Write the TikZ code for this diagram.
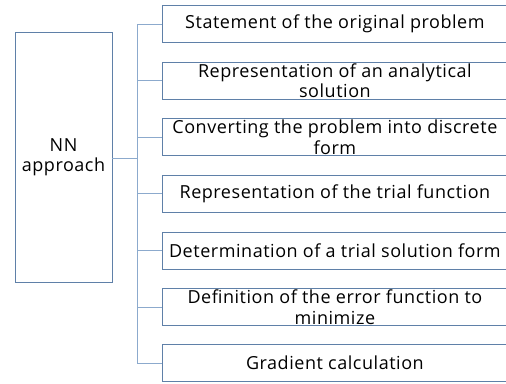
\documentclass[tikz,border=0pt]{standalone}
\usepackage{fontspec}
\setmainfont{Open Sans}[LetterSpace=3]
\definecolor{boxline}{RGB}{95,128,168}
\definecolor{conline}{RGB}{140,170,205}
\begin{document}
\begin{tikzpicture}[x=1pt,y=1pt,
  stepbox/.style={draw=boxline,line width=0.8pt,anchor=west,minimum width=345pt,minimum height=37pt,inner sep=0pt,align=center,font=\fontsize{18}{20.5}\selectfont},
  mainbox/.style={draw=boxline,line width=0.8pt,minimum width=97pt,minimum height=250pt,inner sep=0pt,align=center,font=\fontsize{18}{20.5}\selectfont},
  con/.style={draw=conline,line width=0.7pt}]
\useasboundingbox (0,0) rectangle (506,-383);
\node[mainbox] (nn) at (63.5,-157) {NN\\approach};
\node[stepbox] (b1) at (162,-24) {Statement of the original problem};
\node[stepbox] (b2) at (162,-80.5) {Representation of an analytical\\solution};
\node[stepbox] (b3) at (162,-137) {Converting the problem into discrete\\form};
\node[stepbox] (b4) at (162,-193.5) {Representation of the trial function};
\node[stepbox] (b5) at (162,-250.5) {Determination of a trial solution form};
\node[stepbox] (b6) at (162,-307) {Definition of the error function to\\minimize};
\node[stepbox] (b7) at (162,-363) {Gradient calculation};
\coordinate (trunk) at (137,-158);
\draw[con] (nn.east |- trunk) -- (trunk);
\foreach \b in {b1,b2,b3,b4,b5,b6,b7}{
  \draw[con] (trunk) |- (\b.west);
}
\end{tikzpicture}
\end{document}
